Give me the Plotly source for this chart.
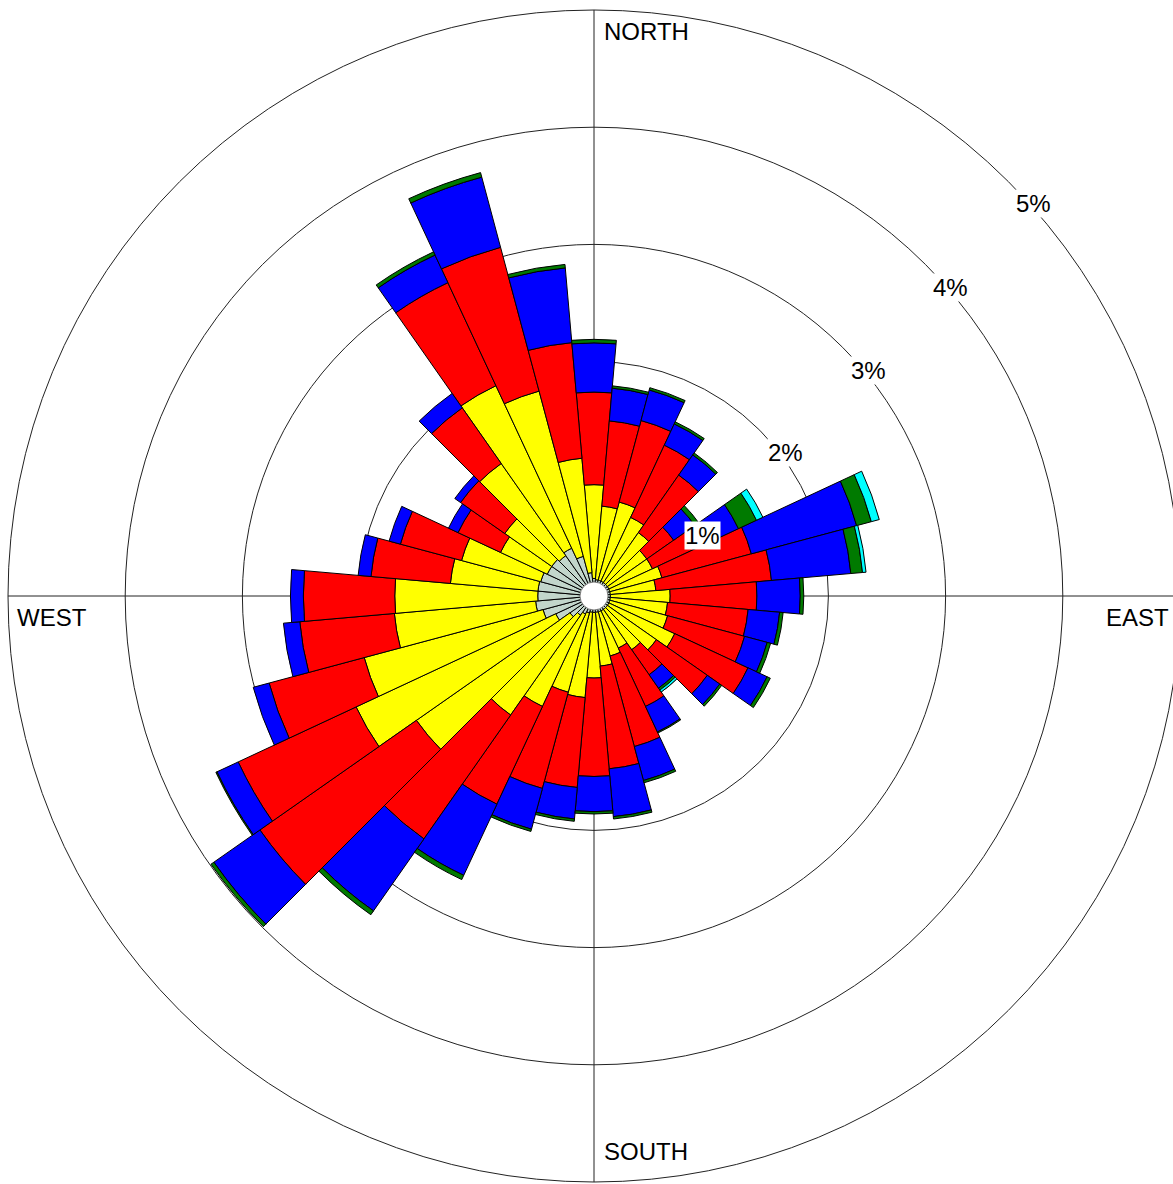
import plotly.graph_objects as go

# ---------------- data ----------------
directions = list(range(0, 360, 10))

# frequency (%) per speed class, per direction (N, 10, 20, ... 350)
class_1 = [0.15, 0.14, 0.14, 0.14, 0.14, 0.14, 0.14, 0.14, 0.14, 0.14, 0.14, 0.14,
           0.14, 0.14, 0.14, 0.14, 0.14, 0.14, 0.14, 0.14, 0.15, 0.17, 0.20, 0.25,
           0.36, 0.45, 0.50, 0.48, 0.48, 0.47, 0.44, 0.44, 0.42, 0.45, 0.35, 0.20]
class_2 = [0.80, 0.63, 0.69, 0.60, 0.52, 0.41, 0.41, 0.46, 0.39, 0.51, 0.49, 0.51,
           0.62, 0.51, 0.42, 0.35, 0.39, 0.46, 0.56, 0.73, 0.70, 0.87, 1.04, 1.60,
           1.88, 1.58, 1.21, 1.22, 0.75, 0.70, 0.44, 0.49, 0.96, 1.53, 1.46, 0.98]
class_3 = [0.79, 0.73, 0.72, 0.68, 0.60, 0.28, 0.53, 0.79, 0.99, 0.74, 0.69, 0.68,
           0.69, 0.53, 0.26, 0.55, 0.80, 0.88, 0.84, 0.77, 0.85, 0.92, 1.29, 1.63,
           1.11, 0.84, 0.81, 0.78, 0.68, 0.54, 0.40, 0.46, 0.58, 0.97, 1.27, 0.99]
class_4 = [0.42, 0.28, 0.27, 0.20, 0.21, 0.22, 0.28, 0.93, 0.68, 0.37, 0.27, 0.20,
           0.18, 0.13, 0.14, 0.24, 0.30, 0.41, 0.30, 0.27, 0.36, 0.67, 0.75, 0.48,
           0.20, 0.14, 0.14, 0.11, 0.11, 0.10, 0.09, 0.06, 0.15, 0.26, 0.62, 0.64]
class_5 = [0.03, 0.02, 0.02, 0.02, 0.02, 0.04, 0.17, 0.13, 0.10, 0.03, 0.03, 0.03,
           0.03, 0.02, 0.02, 0.01, 0.02, 0.02, 0.02, 0.02, 0.02, 0.04, 0.04, 0.03,
           0.01, None, None, None, None, None, None, None, None, 0.03, 0.04, 0.03]
class_6 = [None, None, None, None, None, None, 0.06, 0.07, 0.03, None, None, None,
           None, None, 0.02, None, None, None, None, None, None, None, None, None,
           None, None, None, None, None, None, None, None, None, None, None, None]

class_names = ["Class 1", "Class 2", "Class 3", "Class 4", "Class 5", "Class 6"]
class_colors = ["#C2D6CB", "#FFFF00", "#FF0000", "#0000FF", "#007A00", "#00FFFF"]
class_values = [class_1, class_2, class_3, class_4, class_5, class_6]

ring_values = [1, 2, 3, 4]
ring_labels = ["1%", "2%", "3%", "4%", "5%"]
compass_labels = ["NORTH", "EAST", "SOUTH", "WEST"]

# ---------------- figure ----------------
W, H = 1173, 1184
CX, CY = 594, 596          # centre of the rose in pixels
R_PX = 579                 # plot radius in pixels
PX_PER_PCT = 117.2
R_MAX = R_PX / PX_PER_PCT

fig = go.Figure()
for name, vals, col in zip(class_names, class_values, class_colors):
    fig.add_trace(go.Barpolar(
        r=vals, theta=directions, width=[10] * len(directions), name=name,
        marker=dict(color=col, line=dict(color="black", width=1)),
        hoverinfo="skip"))

# calm circle at the centre
fig.add_trace(go.Scatterpolar(
    r=[0], theta=[0], mode="markers",
    marker=dict(size=28, color="white", line=dict(color="#666", width=0.8)),
    hoverinfo="skip", showlegend=False))

def px(x):
    return x / W

def py(y):
    return 1 - y / H

fig.update_layout(
    width=W, height=H,
    margin=dict(l=0, r=0, t=0, b=0),
    paper_bgcolor="white",
    showlegend=False,
    polar=dict(
        domain=dict(x=[(CX - R_PX) / W, (CX + R_PX) / W],
                    y=[py(CY + R_PX), py(CY - R_PX)]),
        bgcolor="rgba(0,0,0,0)",
        barmode="stack",
        radialaxis=dict(range=[0, R_MAX], tickvals=ring_values, showticklabels=False,
                        ticks="", showline=False, showgrid=True,
                        gridcolor="#222", gridwidth=1),
        angularaxis=dict(rotation=90, direction="clockwise", showticklabels=False,
                         ticks="", showline=False, showgrid=False),
    ),
)

# outer 5 % ring and compass cross lines (beneath the bars)
R5 = 5 * PX_PER_PCT
fig.add_shape(type="circle", xref="paper", yref="paper",
              x0=px(CX - R5), x1=px(CX + R5), y0=py(CY + R5), y1=py(CY - R5),
              line=dict(color="#222", width=1), layer="below")
fig.add_shape(type="line", xref="paper", yref="paper",
              x0=px(CX), x1=px(CX), y0=py(CY - R5), y1=py(CY + R5),
              line=dict(color="#222", width=1), layer="below")
fig.add_shape(type="line", xref="paper", yref="paper",
              x0=px(CX - R5), x1=px(W), y0=py(CY), y1=py(CY),
              line=dict(color="#222", width=1), layer="below")

font = dict(family="Liberation Sans, Arial, sans-serif", size=24, color="black")

# ring labels
label_pos = [(702, 536), (785, 452), (868, 370), (950, 288), (1033, 204)]
for txt, (x, y) in zip(ring_labels, label_pos):
    fig.add_annotation(text=txt, x=px(x), y=py(y), xref="paper", yref="paper",
                       xanchor="center", yanchor="middle", showarrow=False,
                       font=font, bgcolor="white", borderpad=0)

# compass labels
compass_pos = [(602, 32, "left"), (1104, 617, "left"), (602, 1151, "left"), (15, 617, "left")]
for txt, (x, y, anc) in zip(compass_labels, compass_pos):
    fig.add_annotation(text=txt, x=px(x), y=py(y), xref="paper", yref="paper",
                       xanchor=anc, yanchor="middle", showarrow=False, font=font)

fig.write_html("out.html", config={"displayModeBar": False},
               post_script="document.body.style.margin='0';document.body.style.overflow='hidden';")
